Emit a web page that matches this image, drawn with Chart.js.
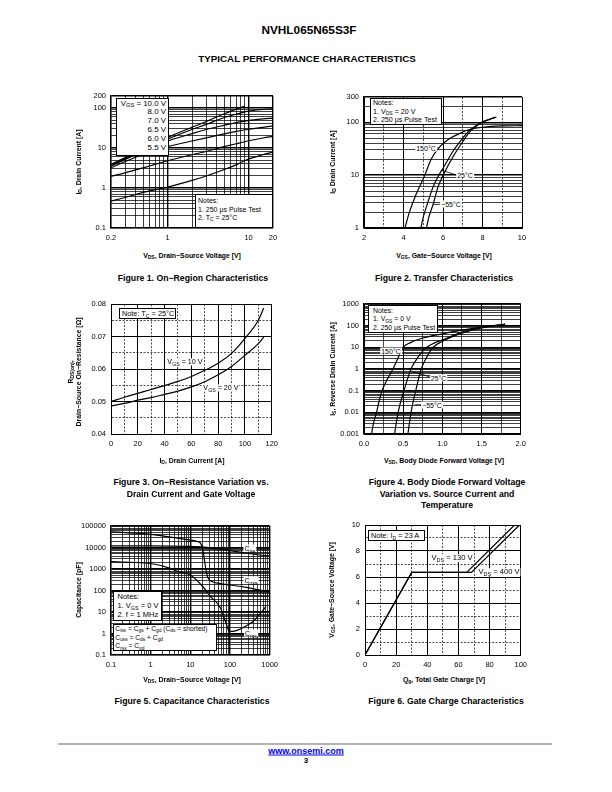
<!DOCTYPE html>
<html>
<head>
<meta charset="utf-8">
<script src="https://cdn.jsdelivr.net/npm/chart.js@4.4.0/dist/chart.umd.min.js"></script>
<style>
  html, body { margin: 0; padding: 0; background: #fff; }
  #page { position: relative; width: 612px; height: 792px; overflow: hidden; font-family: "Liberation Sans", Arial, sans-serif; color: #000; }
  canvas { position: absolute; }
  .t { position: absolute; white-space: nowrap; transform: translate(-50%, -50%); line-height: 1; }
  .rot { transform: translate(-50%, -50%) rotate(-90deg); }
  .cap { font-size: 8.7px; font-weight: bold; }
  .ax { font-size: 6.9px; font-weight: bold; }
  .lbl { font-size: 7px; background: #fff; padding: 0 1px; }
  .box { position: absolute; border: 1px solid #000; background: #fff; font-size: 7px; box-sizing: border-box; white-space: nowrap; }
  sub { font-size: 0.72em; vertical-align: baseline; position: relative; top: 0.3em; line-height: 0; }
</style>
</head>
<body>
<div id="page">
  <div class="t" style="left:309px;top:31px;font-size:11.8px;font-weight:bold">NVHL065N65S3F</div>
  <div class="t" style="left:307px;top:58.5px;font-size:9.8px;font-weight:bold">TYPICAL PERFORMANCE CHARACTERISTICS</div>

  <canvas id="c1"></canvas>
  <canvas id="c2"></canvas>
  <canvas id="c3"></canvas>
  <canvas id="c4"></canvas>
  <canvas id="c5"></canvas>
  <canvas id="c6"></canvas>

  <!-- figure 1 -->
  <div class="box" style="left:116px;top:98px;width:53px;height:58px;text-align:right;padding:0.5px 2px 0 0;line-height:8.9px;font-size:7.9px">
    V<sub>GS</sub> = 10.0 V<br>8.0 V<br>7.0 V<br>6.5 V<br>6.0 V<br>5.5 V
  </div>
  <div class="box" style="left:195px;top:194px;width:78px;height:34px;padding:2.3px 0 0 2px;line-height:8.3px">
    Notes:<br>1. 250 μs Pulse Test<br>2. T<sub>C</sub> = 25°C
  </div>
  <div class="t ax rot" style="left:79px;top:162px">I<sub>D</sub>, Drain Current [A]</div>
  <div class="t ax" style="left:192px;top:256px">V<sub>DS</sub>, Drain−Source Voltage [V]</div>
  <div class="t cap" style="left:193px;top:278px">Figure 1. On−Region Characteristics</div>

  <!-- figure 2 -->
  <div class="box" style="left:370px;top:98px;width:72px;height:27px;padding:0 0 0 2px;line-height:8.6px;font-size:7.1px">
    Notes:<br>1. V<sub>DS</sub> = 20 V<br>2. 250 μs Pulse Test
  </div>
  <div class="t lbl" style="left:426px;top:148px">150°C</div>
  <div class="t lbl" style="left:465px;top:175px">25°C</div>
  <div class="t lbl" style="left:451px;top:204px">−55°C</div>
  <div class="t ax rot" style="left:333px;top:162px">I<sub>D</sub> Drain Current [A]</div>
  <div class="t ax" style="left:444px;top:256px">V<sub>GS</sub>, Gate−Source Voltage [V]</div>
  <div class="t cap" style="left:444px;top:278px">Figure 2. Transfer Characteristics</div>

  <!-- figure 3 -->
  <div class="box" style="left:119px;top:308px;width:57px;height:11px;padding:0 0 0 2px;line-height:9.5px;font-size:7.3px">
    Note: T<sub>C</sub> = 25°C
  </div>
  <div class="t lbl" style="left:185px;top:362px;font-size:7.2px">V<sub>GS</sub> = 10 V</div>
  <div class="t lbl" style="left:221px;top:388px;font-size:7.2px">V<sub>GS</sub> = 20 V</div>
  <div class="t ax rot" style="left:75px;top:372px;text-align:center;line-height:8px">R<sub>DS(on)</sub>,<br>Drain−Source On−Resistance [Ω]</div>
  <div class="t ax" style="left:192px;top:461px">I<sub>D</sub>, Drain Current [A]</div>
  <div class="t cap" style="left:191px;top:482px">Figure 3. On−Resistance Variation vs.</div>
  <div class="t cap" style="left:191px;top:493.5px">Drain Current and Gate Voltage</div>

  <!-- figure 4 -->
  <div class="box" style="left:368px;top:305px;width:70px;height:28px;padding:0.7px 0 0 4px;line-height:8.6px;font-size:6.9px">
    Notes:<br>1. V<sub>GS</sub> = 0 V<br>2. 250 μs Pulse Test
  </div>
  <div class="t lbl" style="left:391px;top:350.5px">150°C</div>
  <div class="t lbl" style="left:438.5px;top:377.5px">25°C</div>
  <div class="t lbl" style="left:432px;top:405px">−55°C</div>
  <div class="t ax rot" style="left:333px;top:369px">I<sub>S</sub>, Reverse Drain Current [A]</div>
  <div class="t ax" style="left:444px;top:461px">V<sub>SD</sub>, Body Diode Forward Voltage [V]</div>
  <div class="t cap" style="left:447px;top:482px">Figure 4. Body Diode Forward Voltage</div>
  <div class="t cap" style="left:447px;top:493.5px">Variation vs. Source Current and</div>
  <div class="t cap" style="left:447px;top:505px">Temperature</div>

  <!-- figure 5 -->
  <div class="box" style="left:113px;top:591px;width:49px;height:30px;padding:0 0 0 3.5px;line-height:9.2px;font-size:7.5px">
    Notes:<br>1. V<sub>GS</sub> = 0 V<br>2. f = 1 MHz
  </div>
  <div class="box" style="left:113px;top:624px;width:104px;height:27px;padding:0 0 0 1.3px;line-height:8.6px;font-size:6.7px">
    C<sub>iss</sub> = C<sub>gs</sub> + C<sub>gd</sub> (C<sub>ds</sub> = shorted)<br>C<sub>oss</sub> = C<sub>ds</sub> + C<sub>gd</sub><br>C<sub>rss</sub> = C<sub>gd</sub>
  </div>
  <div class="t lbl" style="left:250px;top:548px">C<sub>iss</sub></div>
  <div class="t lbl" style="left:251px;top:580px">C<sub>oss</sub></div>
  <div class="t lbl" style="left:251px;top:633px">C<sub>rss</sub></div>
  <div class="t ax rot" style="left:79px;top:590px">Capacitance [pF]</div>
  <div class="t ax" style="left:192px;top:680px">V<sub>DS</sub>, Drain−Source Voltage [V]</div>
  <div class="t cap" style="left:192px;top:701px">Figure 5. Capacitance Characteristics</div>

  <!-- figure 6 -->
  <div class="box" style="left:368px;top:530px;width:57px;height:11px;padding:0 0 0 2px;line-height:9.5px;font-size:7.3px">
    Note: I<sub>D</sub> = 23 A
  </div>
  <div class="t lbl" style="left:452px;top:558px;font-size:7.6px">V<sub>DS</sub> = 130 V</div>
  <div class="t lbl" style="left:499px;top:572px;font-size:7.6px">V<sub>DS</sub> = 400 V</div>
  <div class="t ax rot" style="left:332px;top:590px">V<sub>GS</sub>, Gate−Source Voltage [V]</div>
  <div class="t ax" style="left:444px;top:680px">Q<sub>g</sub>, Total Gate Charge [V]</div>
  <div class="t cap" style="left:446px;top:701px">Figure 6. Gate Charge Characteristics</div>

  <!-- footer -->
  <div style="position:absolute;left:58px;top:743px;width:494px;height:1.5px;background:#b4b4b4"></div>
  <div class="t" style="left:306px;top:751px;font-size:9px;font-weight:bold"><a href="#" style="color:#0000ee">www.onsemi.com</a></div>
  <div class="t" style="left:306px;top:761px;font-size:8px;font-weight:bold">3</div>
</div>

<script>
const FONT = '"Liberation Sans", Arial, sans-serif';

// Figure 1: on-region characteristics (VDS [V] vs ID [A])
const fig1Vds = [0.2, 0.3, 0.5, 0.7, 1, 2, 3, 5, 7, 10, 15, 20];
const fig1Vds10 = [0.2, 0.3, 0.5, 0.7, 1, 2, 3, 5, 7, 9];
const fig1Id10 = [3.9, 5.8, 9.6, 13.2, 18.5, 33, 46, 72, 93, 112];
const fig1Id8 = [3.7, 5.5, 9, 12.2, 16.7, 29, 39, 58, 70, 84, 92, 96];
const fig1Id7 = [3.5, 5.2, 8.3, 11, 14.8, 23, 29, 37, 43, 49, 53.5, 56];
const fig1Id65 = [3.2, 4.6, 7, 8.8, 10.8, 15, 18, 22.5, 26, 29.5, 33, 36];
const fig1Id6 = [1.97, 2.4, 3.2, 3.9, 4.8, 6.8, 8.2, 10.8, 12.8, 15.2, 17.8, 19.5];
const fig1Id55 = [0.47, 0.58, 0.78, 0.9, 1.05, 1.55, 2.0, 2.9, 3.8, 5.3, 6.8, 8];
const fig1XTicks = [0.2, 1, 10, 20];
const fig1XText = ['0.2', '1', '10', '20'];
const fig1YTicks = [0.1, 1, 10, 100, 200];
const fig1YText = ['0.1', '1', '10', '100', '200'];

// Figure 2: transfer characteristics (VGS [V] vs ID [A])
const fig2Vgs150 = [4.07, 4.3, 4.6, 5.08, 5.4, 5.8, 6.3, 6.8, 7.3, 8.0, 9.0, 10.0];
const fig2Id150 = [1, 2, 4, 10, 20, 33, 48, 60, 72, 80, 85, 86];
const fig2Vgs25 = [4.88, 5.0, 5.2, 5.5, 5.79, 6.0, 6.5, 7.0, 7.3, 7.6, 8.0, 8.7];
const fig2Id25 = [1, 1.6, 2.8, 6, 10, 13.5, 28, 50, 68, 82, 102, 125];
const fig2VgsM55 = [5.16, 5.3, 5.5, 5.75, 6.01, 6.5, 7.0, 7.3, 7.6, 8.0, 8.6];
const fig2IdM55 = [1, 1.7, 2.8, 6, 10, 22, 43, 62, 80, 100, 122];
const fig2XTicks = [2, 4, 6, 8, 10];
const fig2XText = ['2', '4', '6', '8', '10'];
const fig2YTicks = [1, 10, 100, 300];
const fig2YText = ['1', '10', '100', '300'];
const fig2Leaders = [[[5.65, 32.6], [5.78, 32.6]], [[5.92, 12.4], [6.68, 10]], [[5.5, 2.8], [6.0, 2.8]]];

// Figure 3: on-resistance vs drain current (ID [A] vs RDS(on) [ohm])
const fig3Id = [0, 10, 20, 30, 40, 50, 60, 70, 80, 90, 100, 110, 114];
const fig3Rds10 = [0.0500, 0.0513, 0.0525, 0.0537, 0.0549, 0.0562, 0.0577, 0.0596, 0.0618, 0.0648, 0.0694, 0.0750, 0.0788];
const fig3Rds20 = [0.0486, 0.0494, 0.0504, 0.0512, 0.0522, 0.0532, 0.0545, 0.0561, 0.0582, 0.0608, 0.0642, 0.0678, 0.0698];
const fig3XTicks = [0, 20, 40, 60, 80, 100, 120];
const fig3XText = ['0', '20', '40', '60', '80', '100', '120'];
const fig3YTicks = [0.04, 0.05, 0.06, 0.07, 0.08];
const fig3YText = ['0.04', '0.05', '0.06', '0.07', '0.08'];

// Figure 4: body diode forward voltage (VSD [V] vs IS [A])
const fig4Vsd150 = [0.096, 0.12, 0.16, 0.19, 0.23, 0.29, 0.37, 0.43, 0.50, 0.6, 0.75, 1.0, 1.25, 1.5, 1.8];
const fig4Is150 = [0.001, 0.003, 0.01, 0.03, 0.1, 0.3, 1, 3, 10, 17, 27, 42, 62, 85, 115];
const fig4Vsd25 = [0.39, 0.435, 0.51, 0.60, 0.70, 0.80, 0.9, 1.0, 1.25, 1.5, 1.8];
const fig4Is25 = [0.001, 0.01, 0.1, 1, 4, 10, 16, 22, 50, 82, 118];
const fig4VsdM55 = [0.56, 0.60, 0.66, 0.73, 0.80, 0.88, 1.0, 1.25, 1.5, 1.8];
const fig4IsM55 = [0.001, 0.01, 0.1, 1, 3.5, 10, 19, 45, 78, 115];
const fig4XTicks = [0, 0.5, 1, 1.5, 2];
const fig4XText = ['0.0', '0.5', '1.0', '1.5', '2.0'];
const fig4YTicks = [0.001, 0.01, 0.1, 1, 10, 100, 1000];
const fig4YText = ['0.001', '0.01', '0.1', '1', '10', '100', '1000'];
const fig4Leaders = [[[0.605, 0.79], [0.838, 0.434]], [[0.647, 0.0223], [0.754, 0.0223]]];

// Figure 5: capacitance (VDS [V] vs C [pF])
const fig5VdsIss = [0.1, 1, 10, 20, 50, 100, 200, 500, 1000];
const fig5Ciss = [12000, 11800, 11200, 10800, 8500, 7200, 5900, 4600, 4000];
const fig5VdsOss = [0.1, 0.3, 1, 3, 10, 15, 18, 20, 22, 24, 26, 28, 35, 50, 100, 200, 400, 1000];
const fig5Coss = [54000, 48000, 41000, 31000, 22000, 19000, 16000, 10000, 4000, 1300, 600, 380, 260, 220, 180, 150, 120, 85];
const fig5VdsRss = [0.1, 0.3, 1, 3, 5, 10, 19, 33, 58, 85, 95, 130, 180, 260, 390, 550, 800];
const fig5Crss = [2200, 2050, 1800, 1100, 750, 525, 180, 51, 15, 2.1, 1.25, 1.3, 1.6, 2.3, 3.7, 7.5, 18];
const fig5XTicks = [0.1, 1, 10, 100, 1000];
const fig5XText = ['0.1', '1', '10', '100', '1000'];
const fig5YTicks = [0.1, 1, 10, 100, 1000, 10000, 100000];
const fig5YText = ['0.1', '1', '10', '100', '1000', '10000', '100000'];

// Figure 6: gate charge (Qg [nC] vs VGS [V])
const fig6Qg130 = [0, 30, 65.3, 96];
const fig6Vgs130 = [0, 6.35, 6.35, 10];
const fig6Qg400 = [0, 30, 68.3, 99.2];
const fig6Vgs400 = [0, 6.35, 6.35, 10];
const fig6XTicks = [0, 20, 40, 60, 80, 100];
const fig6XText = ['0', '20', '40', '60', '80', '100'];
const fig6YTicks = [0, 2, 4, 6, 8, 10];
const fig6YText = ['0', '2', '4', '6', '8', '10'];

function near(a, b) { return Math.abs(a - b) <= 1e-6 * Math.max(Math.abs(b), 1e-9); }
function isDecade(v) { const l = Math.log10(v); return Math.abs(l - Math.round(l)) < 1e-6; }
function label(v, vals, text) {
  const i = vals.findIndex(t => near(v, t));
  return i < 0 ? '' : text[i];
}

function logAxis(min, max, vals, text, pad) {
  const list = [];
  for (let e = Math.floor(Math.log10(min)); e <= Math.ceil(Math.log10(max)); e++) {
    for (let k = 1; k <= 9; k++) {
      const v = Number((k * Math.pow(10, e)).toPrecision(6));
      if (v >= min * 0.999999 && v <= max * 1.000001) list.push(v);
    }
  }
  return {
    type: 'logarithmic', min, max,
    afterBuildTicks: s => { s.ticks = list.map(v => ({ value: v })); },
    ticks: {
      autoSkip: false, maxRotation: 0, minRotation: 0, padding: pad, color: '#000',
      font: { family: FONT, size: 7.5 },
      callback: v => label(v, vals, text)
    },
    grid: {
      drawTicks: false, color: '#000',
      lineWidth: c => (c.tick && (isDecade(c.tick.value) || near(c.tick.value, min) || near(c.tick.value, max))) ? 1.4 : 0.75
    },
    border: { color: '#000', width: 1.3 }
  };
}

// dashed: draw the minor (unlabelled) lines dashed
function linAxis(min, max, step, vals, text, pad, dashed) {
  const major = v => vals.some(t => near(v, t));
  return {
    type: 'linear', min, max,
    ticks: {
      stepSize: step, autoSkip: false, maxRotation: 0, minRotation: 0, padding: pad, color: '#000',
      font: { family: FONT, size: 7.5 },
      callback: v => label(v, vals, text)
    },
    grid: {
      drawTicks: false, color: '#000',
      lineWidth: c => (c.tick && major(c.tick.value)) ? 1 : 0.7
    },
    border: {
      color: '#000', width: 1,
      dash: c => (dashed && c.tick && !major(c.tick.value)) ? [2, 1.5] : []
    }
  };
}

const leaderPlugin = {
  id: 'leaders',
  afterDatasetsDraw(chart, args, opts) {
    const { ctx, scales: { x, y } } = chart;
    ctx.save();
    ctx.strokeStyle = '#000';
    ctx.lineWidth = 0.8;
    (opts.lines || []).forEach(([a, b]) => {
      ctx.beginPath();
      ctx.moveTo(x.getPixelForValue(a[0]), y.getPixelForValue(a[1]));
      ctx.lineTo(x.getPixelForValue(b[0]), y.getPixelForValue(b[1]));
      ctx.stroke();
    });
    ctx.restore();
  }
};

function series(xs, ys, straight) {
  return {
    data: xs.map((x, i) => ({ x, y: ys[i] })),
    showLine: true, pointRadius: 0, borderColor: '#000', borderWidth: 1.2, fill: false,
    cubicInterpolationMode: straight ? 'default' : 'monotone', tension: 0
  };
}

function panel(id, area, xAxis, yAxis, datasets, leaders) {
  const [L, T, R, B] = area;
  const cv = document.getElementById(id);
  cv.width = R - L + 50;
  cv.height = B - T + 28;
  cv.style.left = (L - 40) + 'px';
  cv.style.top = (T - 10) + 'px';
  xAxis.afterFit = s => { s.height = 18; };
  yAxis.afterFit = s => { s.width = 40; };
  return new Chart(cv, {
    type: 'scatter',
    data: { datasets },
    options: {
      animation: false, responsive: false, events: [],
      layout: { padding: { top: 10, right: 10, left: 0, bottom: 0 } },
      plugins: { legend: { display: false }, tooltip: { enabled: false }, leaders: { lines: leaders || [] } },
      scales: { x: xAxis, y: yAxis }
    },
    plugins: [leaderPlugin]
  });
}

panel('c1', [111, 96, 273, 228],
  logAxis(0.2, 20, fig1XTicks, fig1XText, 5),
  logAxis(0.1, 200, fig1YTicks, fig1YText, 5),
  [series(fig1Vds10, fig1Id10), series(fig1Vds, fig1Id8), series(fig1Vds, fig1Id7),
   series(fig1Vds, fig1Id65), series(fig1Vds, fig1Id6), series(fig1Vds, fig1Id55)]);

panel('c2', [364, 97, 522, 228],
  linAxis(2, 10, 1, fig2XTicks, fig2XText, 5, true),
  logAxis(1, 300, fig2YTicks, fig2YText, 5),
  [series(fig2Vgs150, fig2Id150), series(fig2Vgs25, fig2Id25), series(fig2VgsM55, fig2IdM55)],
  fig2Leaders);

panel('c3', [111, 304, 273, 434],
  linAxis(0, 120, 10, fig3XTicks, fig3XText, 5, true),
  linAxis(0.04, 0.08, 0.005, fig3YTicks, fig3YText, 5, true),
  [series(fig3Id, fig3Rds10), series(fig3Id, fig3Rds20)]);

panel('c4', [364, 304, 521, 434],
  linAxis(0, 2, 0.25, fig4XTicks, fig4XText, 5, false),
  logAxis(0.001, 1000, fig4YTicks, fig4YText, 5),
  [series(fig4Vsd150, fig4Is150), series(fig4Vsd25, fig4Is25), series(fig4VsdM55, fig4IsM55)],
  fig4Leaders);

panel('c5', [111, 526, 273, 655],
  logAxis(0.1, 1000, fig5XTicks, fig5XText, 5),
  logAxis(0.1, 100000, fig5YTicks, fig5YText, 5),
  [series(fig5VdsIss, fig5Ciss), series(fig5VdsOss, fig5Coss), series(fig5VdsRss, fig5Crss)]);

panel('c6', [365, 525, 522, 655],
  linAxis(0, 100, 10, fig6XTicks, fig6XText, 5, true),
  linAxis(0, 10, 1, fig6YTicks, fig6YText, 5, true),
  [series(fig6Qg130, fig6Vgs130, true), series(fig6Qg400, fig6Vgs400, true)]);
</script>
</body>
</html>
